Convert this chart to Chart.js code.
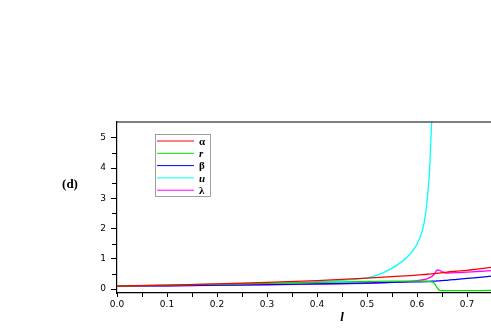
<!DOCTYPE html>
<html>
<head>
<meta charset="utf-8">
<script src="https://cdn.jsdelivr.net/npm/chart.js@4.4.0/dist/chart.umd.min.js"></script>
<style>
  html, body { margin: 0; padding: 0; background: #fff; }
  #box { position: relative; width: 491px; height: 335px; }
</style>
</head>
<body>
<div id="box"><canvas id="grafico"></canvas></div>
<script>
// dati
var serie_nomi = ['α', 'r', 'β', 'u', 'λ'];
var serie_corsivo = [false, true, false, true, false];
var serie_colori = ['#ff0000', '#00e000', '#0000ff', '#00ffff', '#ff00ff'];

var l_valori = [0, 0.1, 0.2, 0.3, 0.4, 0.5, 0.55, 0.6, 0.62, 0.63, 0.635, 0.64, 0.645, 0.65, 0.66, 0.68, 0.7, 0.72, 0.75];
var alpha_valori = [0.10, 0.13, 0.17, 0.22, 0.28, 0.36, 0.41, 0.46, 0.49, 0.50, 0.51, 0.52, 0.53, 0.54, 0.56, 0.59, 0.62, 0.66, 0.72];
var r_valori = [0.10, 0.13, 0.16, 0.19, 0.22, 0.25, 0.26, 0.26, 0.25, 0.24, 0.18, 0.05, -0.04, -0.05, -0.05, -0.05, -0.05, -0.05, -0.04];
var beta_valori = [0.10, 0.11, 0.13, 0.15, 0.17, 0.20, 0.22, 0.24, 0.25, 0.26, 0.26, 0.27, 0.27, 0.28, 0.29, 0.32, 0.35, 0.38, 0.43];
var lambda_valori = [0.10, 0.11, 0.12, 0.14, 0.16, 0.19, 0.22, 0.28, 0.34, 0.42, 0.50, 0.63, 0.62, 0.57, 0.53, 0.54, 0.56, 0.58, 0.61];

var l_u = [0, 0.1, 0.2, 0.3, 0.4, 0.45, 0.5, 0.53, 0.56, 0.58, 0.59, 0.6, 0.61, 0.615, 0.62, 0.625, 0.63];
var u_valori = [0.10, 0.12, 0.15, 0.19, 0.24, 0.29, 0.37, 0.52, 0.79, 1.05, 1.24, 1.48, 1.9, 2.25, 2.9, 3.9, 5.8];

var x_tick = [0, 0.1, 0.2, 0.3, 0.4, 0.5, 0.6, 0.7];
var y_tick = [0, 1, 2, 3, 4, 5];

function punti(xs, ys) {
  var out = [];
  for (var i = 0; i < xs.length; i++) out.push({x: xs[i], y: ys[i]});
  return out;
}

var dati_serie = [
  punti(l_valori, alpha_valori),
  punti(l_valori, r_valori),
  punti(l_valori, beta_valori),
  punti(l_u, u_valori),
  punti(l_valori, lambda_valori)
];

var datasets = [];
for (var i = 0; i < serie_nomi.length; i++) {
  datasets.push({
    label: serie_nomi[i],
    data: dati_serie[i],
    borderColor: serie_colori[i],
    backgroundColor: serie_colori[i],
    borderWidth: 1.3,
    pointRadius: 0,
    fill: false,
    cubicInterpolationMode: 'monotone'
  });
}

// legenda, bordo sopra, etichette extra
var extra = {
  id: 'extra',
  afterDraw: function(chart) {
    var ctx = chart.ctx;
    var a = chart.chartArea;
    ctx.save();
    // bordo superiore
    ctx.strokeStyle = '#000';
    ctx.lineWidth = 1.2;
    ctx.beginPath();
    ctx.moveTo(a.left, a.top);
    ctx.lineTo(a.right, a.top);
    ctx.stroke();

    // legenda
    ctx.strokeStyle = '#888';
    ctx.lineWidth = 0.8;
    ctx.strokeRect(155.5, 134.5, 55, 62);
    for (var i = 0; i < serie_nomi.length; i++) {
      var y = 141 + i * 12.3;
      ctx.strokeStyle = serie_colori[i];
      ctx.lineWidth = 1;
      ctx.beginPath();
      ctx.moveTo(157, y);
      ctx.lineTo(194, y);
      ctx.stroke();
      ctx.fillStyle = '#000';
      ctx.font = (serie_corsivo[i] ? 'italic bold ' : 'bold ') + '11px "Liberation Serif"';
      ctx.textAlign = 'left';
      ctx.textBaseline = 'middle';
      ctx.fillText(serie_nomi[i], 199, y + 1);
    }

    // (d)
    ctx.fillStyle = '#000';
    ctx.font = 'bold 13px "Liberation Serif"';
    ctx.textAlign = 'center';
    ctx.textBaseline = 'middle';
    ctx.fillText('(d)', 70, 185);

    // titolo asse x
    ctx.font = 'italic bold 13px "Liberation Serif"';
    ctx.fillText('l', 342, 318);

    // tacche minori asse x
    var sx = chart.scales.x;
    ctx.strokeStyle = '#000';
    ctx.lineWidth = 1;
    for (var t = 0.05; t < 0.75; t += 0.1) {
      var px = Math.round(sx.getPixelForValue(t)) + 0.5;
      ctx.beginPath();
      ctx.moveTo(px, a.bottom);
      ctx.lineTo(px, a.bottom + 4);
      ctx.stroke();
    }
    // tacche minori asse y
    var sy = chart.scales.y;
    for (var v = 0.5; v < 5.5; v += 1) {
      var py = Math.round(sy.getPixelForValue(v)) + 0.5;
      ctx.beginPath();
      ctx.moveTo(a.left - 5, py);
      ctx.lineTo(a.left, py);
      ctx.stroke();
    }
    ctx.restore();
  }
};

var chart = new Chart(document.getElementById('grafico'), {
  type: 'line',
  data: { datasets: datasets },
  options: {
    responsive: true,
    maintainAspectRatio: false,
    animation: false,
    layout: { padding: { top: 122, right: 0, left: 0, bottom: 0 } },
    plugins: { legend: { display: false }, tooltip: { enabled: false } },
    scales: {
      x: {
        type: 'linear',
        min: 0,
        max: 0.748,
        afterBuildTicks: function(s) { s.ticks = x_tick.map(function(v){ return {value: v}; }); },
        afterFit: function(s) { s.height = 42; },
        ticks: {
          color: '#000',
          padding: 2,
          maxRotation: 0,
          font: { family: '"DejaVu Sans"', size: 9 },
          callback: function(v) { return v.toFixed(1); }
        },
        grid: { drawOnChartArea: false, color: '#000', tickLength: 4 },
        border: { color: '#000', width: 1.2 }
      },
      y: {
        type: 'linear',
        min: -0.13,
        max: 5.52,
        afterBuildTicks: function(s) { s.ticks = y_tick.map(function(v){ return {value: v}; }); },
        afterFit: function(s) { s.width = 117; },
        ticks: {
          color: '#000',
          padding: 5,
          font: { family: '"DejaVu Sans"', size: 9 },
          callback: function(v) { return String(v); }
        },
        grid: { drawOnChartArea: false, color: '#000', tickLength: 6 },
        border: { color: '#000', width: 1.2 }
      }
    }
  },
  plugins: [extra]
});
</script>
</body>
</html>
